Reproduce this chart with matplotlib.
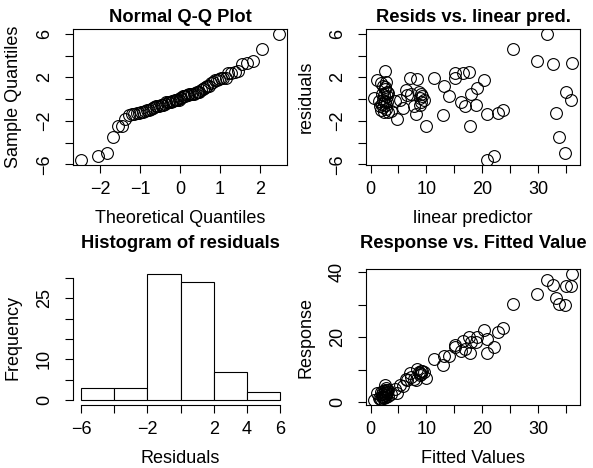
import numpy as np
import matplotlib.pyplot as plt
from statistics import NormalDist

plt.rcParams['font.family'] = ['Liberation Sans', 'DejaVu Sans']
plt.rcParams['font.size'] = 13

# fitted values (linear predictor) and residuals
fitted = [31.6, 25.5, 29.9, 32.7, 36.1, 35.0, 35.9, 33.3, 33.8, 34.8,
          20.9, 22.1, 20.9, 22.8, 23.8, 20.4, 19.1, 18.0, 18.9, 17.8,
          17.0, 16.2, 17.6, 16.5, 15.2, 15.2, 14.0, 13.1, 12.9, 11.3,
          10.0, 8.3, 7.1, 8.2, 7.8, 7.3, 6.3, 6.6, 5.8, 5.3,
          4.8, 4.4, 3.7, 2.65,
          8.6, 9.0, 9.3, 8.8, 9.5, 9.1, 8.9,
          1.2, 0.6, 1.8, 2.2, 2.8, 2.5, 3.0, 2.0, 2.4, 2.9, 2.6, 3.2,
          1.5, 2.1, 2.3, 2.7, 3.1, 1.9, 2.5, 2.8, 2.2, 3.0, 2.4, 1.7]
resid = [6.0, 4.6, 3.5, 3.2, 3.3, 0.7, -0.1, -1.25, -3.5, -5.0,
         -5.6, -5.2, -1.4, -1.25, -1.0, 1.8, 1.0, 0.5, -0.5, -2.5,
         -0.65, -0.3, 2.5, 2.4, 2.4, 1.95, 0.3, 1.2, -1.5, 1.95,
         -2.5, 1.9, 1.98, -1.4, -0.65, 0.45, 0.85, 0.4, -0.85, -0.05,
         -1.8, -0.15, -1.1, 2.6,
         0.7, 0.5, 0.3, 0.1, -0.1, -0.3, -0.5,
         1.8, 0.15, 1.5, 1.2, 1.6, 0.9, 0.7, 0.5, 0.35, 0.25, 1.1, 0.6,
         -0.2, -0.4, -0.7, -0.9, -1.15, -1.0, -0.3, -0.55, -0.1, -0.25, -1.2, -0.6]

fitted = np.array(fitted)
resid = np.array(resid)
response = fitted + resid
hist_breaks = [-6, -4, -2, 0, 2, 4, 6]

n = len(resid)
theo = np.array([NormalDist().inv_cdf((i - 0.5) / n) for i in range(1, n + 1)])
samp = np.sort(resid)

W, H = 593, 468
fig = plt.figure(figsize=(W / 100, H / 100), dpi=100)


def box(l, t, r, b):
    return fig.add_axes([l / W, 1 - b / H, (r - l) / W, (b - t) / H])


ax1 = box(73, 29, 287, 165)
ax2 = box(366, 29, 580, 165)
ax3 = box(73, 269, 288, 405)
ax4 = box(366, 269, 580, 405)

mk = dict(marker='o', ms=8.5, mfc='none', mec='black', mew=0.8, ls='none')
FS = 13


def rstyle(ax, xt, xl, yt, yl):
    ax.set_xticks(xt)
    ax.set_xticklabels(xl)
    ax.set_yticks(yt)
    ax.set_yticklabels(yl, rotation=90, va='center')
    ax.tick_params(direction='out', length=5.5, width=0.8, pad=6, labelsize=FS)
    ax.tick_params(axis='y', pad=9)
    for s in ax.spines.values():
        s.set_linewidth(0.8)


def lab(v):
    return '\u2212' + str(-v) if v < 0 else str(v)


# Q-Q plot
ax1.plot(theo, samp, **mk)
ax1.margins(0.04)
rstyle(ax1, [-2, -1, 0, 1, 2], [lab(v) for v in [-2, -1, 0, 1, 2]],
       [-6, -4, -2, 0, 2, 4, 6], ['\u22126', '', '\u22122', '', '2', '', '6'])
ax1.set_title('Normal Q-Q Plot', fontweight='bold', fontsize=13.2, pad=5)
ax1.set_xlabel('Theoretical Quantiles', fontsize=FS, labelpad=9)
ax1.set_ylabel('Sample Quantiles', fontsize=FS, labelpad=10)

# residuals vs linear predictor
ax2.plot(fitted, resid, **mk)
ax2.margins(0.04)
rstyle(ax2, list(range(0, 40, 5)), ['0', '', '10', '', '20', '', '30', ''],
       [-6, -4, -2, 0, 2, 4, 6], ['\u22126', '', '\u22122', '', '2', '', '6'])
ax2.set_title('Resids vs. linear pred.', fontweight='bold', fontsize=13.2, pad=5)
ax2.set_xlabel('linear predictor', fontsize=FS, labelpad=9)
ax2.set_ylabel('residuals', fontsize=FS, labelpad=10)

# histogram
counts, _, _ = ax3.hist(resid, bins=hist_breaks, facecolor='white',
                        edgecolor='black', linewidth=0.8)
ax3.set_xlim(-6.48, 6.48)
ymax = counts.max()
ax3.set_ylim(-0.04 * ymax, 1.04 * ymax)
rstyle(ax3, hist_breaks, ['\u22126', '', '\u22122', '', '2', '4', '6'],
       [0, 5, 10, 15, 20, 25, 30], ['0', '', '10', '', '', '25', ''])
ax3.spines['top'].set_visible(False)
ax3.spines['right'].set_visible(False)
ax3.spines['left'].set_bounds(0, 30)
ax3.spines['bottom'].set_bounds(-6, 6)
ax3.set_title('Histogram of residuals', fontweight='bold', fontsize=13.2, pad=15)
ax3.set_xlabel('Residuals', fontsize=FS, labelpad=9)
ax3.set_ylabel('Frequency', fontsize=FS, labelpad=10)

# response vs fitted
ax4.plot(fitted, response, **mk)
ax4.margins(0.04)
rstyle(ax4, list(range(0, 40, 5)), ['0', '', '10', '', '20', '', '30', ''],
       [0, 10, 20, 30, 40], ['0', '', '20', '', '40'])
ax4.set_title('Response vs. Fitted Value', fontweight='bold', fontsize=13.2, pad=15)
ax4.set_xlabel('Fitted Values', fontsize=FS, labelpad=9)
ax4.set_ylabel('Response', fontsize=FS, labelpad=10)

fig.savefig('out.png', dpi=100)
